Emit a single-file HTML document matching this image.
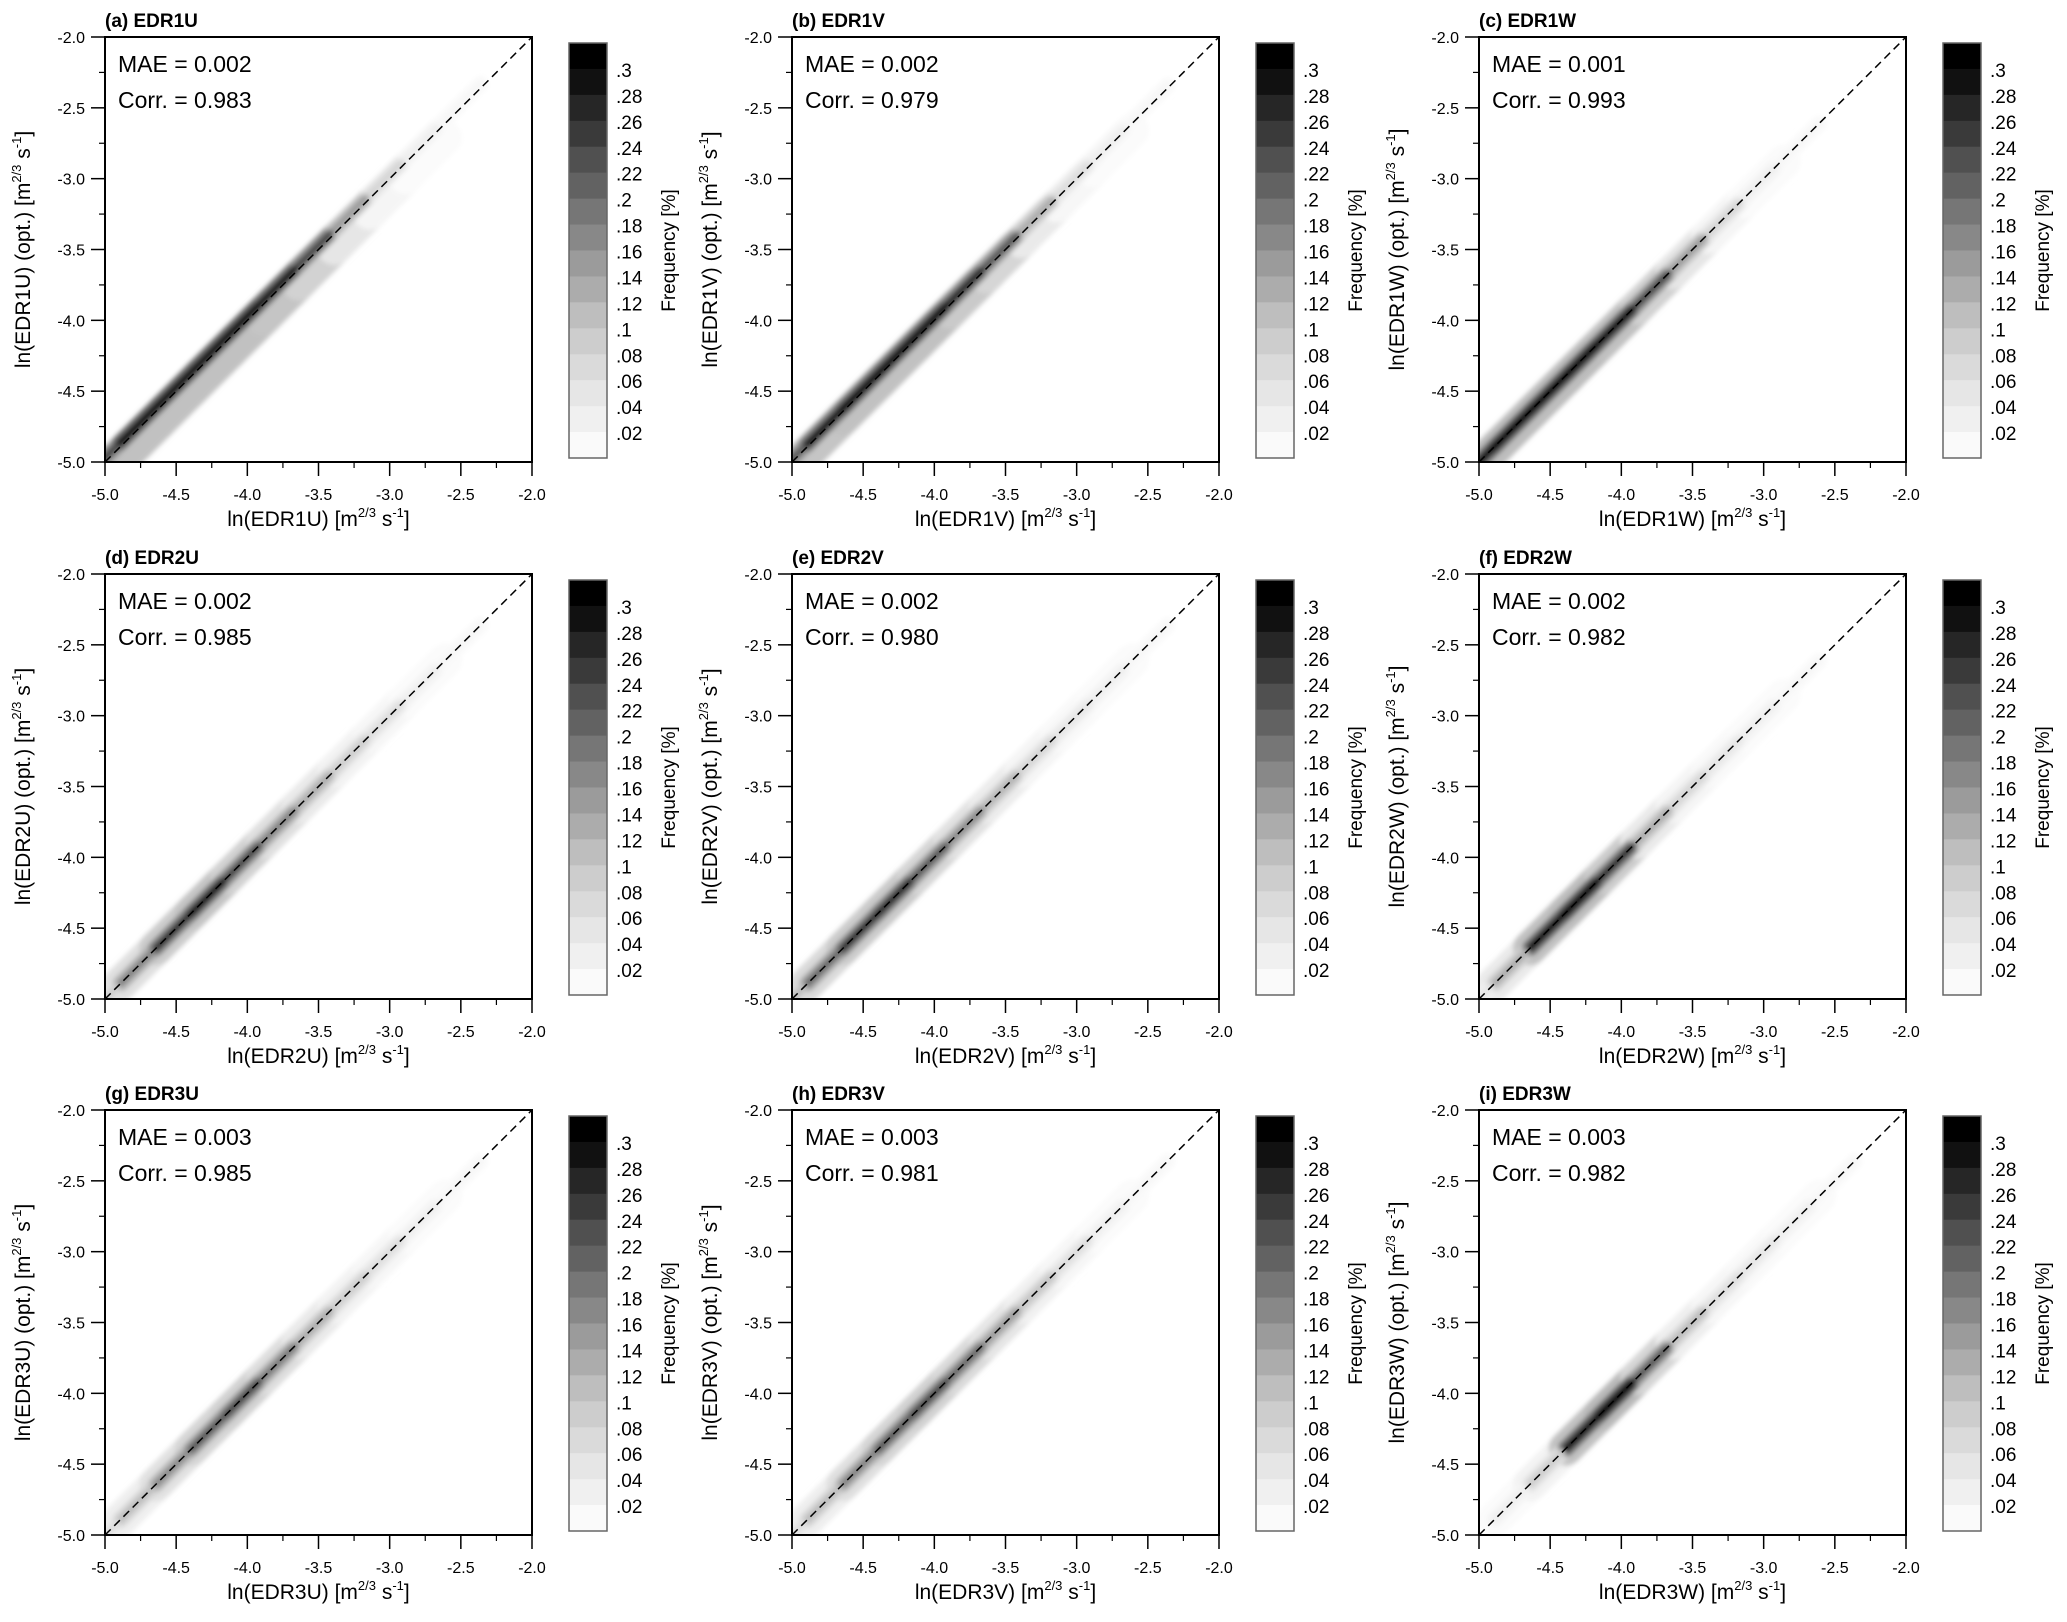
<!DOCTYPE html>
<html><head><meta charset="utf-8">
<style>
body{margin:0;background:#fff;}
svg{display:block;font-family:"Liberation Sans",Arial,sans-serif;}
</style></head>
<body>
<svg id="fig" width="2067" height="1622" viewBox="0 0 2067 1622" xmlns="http://www.w3.org/2000/svg">
<defs>
<filter id="blur" x="-20%" y="-20%" width="140%" height="140%"><feGaussianBlur stdDeviation="2.5"/></filter>
</defs>
</svg>
<script>
const NS="http://www.w3.org/2000/svg";
const svg=document.getElementById('fig');
// ---- data ----
const panelIds=['a','b','c','d','e','f','g','h','i'];
const panelVars=['EDR1U','EDR1V','EDR1W','EDR2U','EDR2V','EDR2W','EDR3U','EDR3V','EDR3W'];
const maeValues=['0.002','0.002','0.001','0.002','0.002','0.002','0.003','0.003','0.003'];
const corrValues=['0.983','0.979','0.993','0.985','0.980','0.982','0.985','0.981','0.982'];
const gridX=[-5,-4.75,-4.5,-4.25,-4,-3.75,-3.5,-3.25,-3,-2.75,-2.5];
const densA=[.22,.30,.30,.30,.30,.28,.22,.12,.05,.02,.01];
const densB=[.20,.28,.30,.30,.30,.26,.20,.10,.04,.02,.01];
const densC=[.30,.32,.32,.32,.30,.22,.12,.05,.02,.01,0];
const densD=[.06,.15,.25,.28,.22,.15,.10,.06,.04,.02,.01];
const densE=[.08,.18,.25,.26,.20,.14,.09,.05,.03,.02,.01];
const densF=[.03,.10,.30,.32,.25,.10,.05,.03,.02,.01,0];
const densG=[.04,.08,.14,.20,.22,.16,.10,.06,.04,.02,.01];
const densH=[.04,.08,.15,.20,.22,.18,.12,.07,.04,.02,.01];
const densI=[0,.02,.06,.30,.34,.20,.08,.04,.03,.02,.01];
const haloOffsets=[-0.1,-0.05,-0.02,0,0,0,0,0,0];
const coreOffsets=[0.03,0.02,0,0,0,0,0,0,0];
const allDens=[densA,densB,densC,densD,densE,densF,densG,densH,densI];
const axisTicks=[-5.0,-4.5,-4.0,-3.5,-3.0,-2.5,-2.0];
const minorTicks=[-4.75,-4.25,-3.75,-3.25,-2.75,-2.25];
const cbLabels=['.3','.28','.26','.24','.22','.2','.18','.16','.14','.12','.1','.08','.06','.04','.02'];
const cbGrays=[0,17,38,58,80,98,118,136,155,172,190,205,218,230,240,250];
// ---- layout ----
const colX=[105,792,1479], rowY=[37,574,1110], PW=427, PH=425;
function el(tag,attrs,parent){const e=document.createElementNS(NS,tag);for(const k in attrs)e.setAttribute(k,attrs[k]);(parent||svg).appendChild(e);return e;}
function gray(d){const v=Math.max(0,Math.min(255,Math.round(255*(1-d/0.31))));return `rgb(${v},${v},${v})`;}
function makeLabel(parent,x,y,pre,rot,name){
  const t=el('text',{x:x,y:y,'font-size':21,'text-anchor':'middle',fill:'#000'},parent);
  if(rot)t.setAttribute('transform',`rotate(-90 ${x} ${y})`);
  
  
  t.appendChild(document.createTextNode(pre+' [m'));
  const s1=el('tspan',{'font-size':13,dy:-9},t);s1.textContent='2/3';
  const s2=el('tspan',{dy:9},t);s2.textContent=' s';
  const s3=el('tspan',{'font-size':13,dy:-9},t);s3.textContent='-1';
  const s4=el('tspan',{dy:9},t);s4.textContent=']';
}
const defs=svg.querySelector('defs');
panelIds.forEach((pid,i)=>{
  const L=colX[i%3], T=rowY[Math.floor(i/3)];
  const cp=el('clipPath',{id:'clip-'+pid},defs);
  el('rect',{x:L,y:T,width:PW,height:PH},cp);
  const g=el('g',{});
  
  
  const sx=v=>L+(v+5)/3*PW, sy=v=>T+(-2-v)/3*PH;
  // density
  const cg=el('g',{'clip-path':`url(#clip-${pid})`},g);
  const dg=el('g',{filter:'url(#blur)'},cg);
  
  
  const dens=allDens[i];
  const layers=[[0.25,34,haloOffsets[i]],[0.6,16,coreOffsets[i]],[1,7,coreOffsets[i]]];
  layers.forEach(([f,w,off])=>{
    for(let k=0;k<gridX.length;k++){
      const d=dens[k]*f; if(d<=0.004)continue;
      const x0=Math.max(-5.05,gridX[k]-0.14), x1=Math.min(-2,gridX[k]+0.14);
      const ln=el('line',{x1:sx(x0),y1:sy(x0+off),x2:sx(x1),y2:sy(x1+off),stroke:gray(d),'stroke-width':w,'stroke-linecap':'round'},dg);
      
      
    }
  });
  // 1:1 line
  const dl=el('line',{x1:sx(-5),y1:sy(-5),x2:sx(-2),y2:sy(-2),stroke:'#000','stroke-width':1.5,'stroke-dasharray':'8,5'},g);
  
  
  const fr=el('rect',{x:L,y:T,width:PW,height:PH,fill:'none',stroke:'#000','stroke-width':2},g);
  
  
  axisTicks.forEach(v=>{
    el('line',{x1:sx(v),y1:T+PH,x2:sx(v),y2:T+PH+14,stroke:'#000','stroke-width':1.5},g);
    el('line',{x1:L,y1:sy(v),x2:L-14,y2:sy(v),stroke:'#000','stroke-width':1.5},g);
    const tx=el('text',{x:sx(v),y:T+PH+38,'font-size':16,'text-anchor':'middle'},g);tx.textContent=v.toFixed(1);
    
    
    const ty=el('text',{x:L-20,y:sy(v)+6,'font-size':16,'text-anchor':'end'},g);ty.textContent=v.toFixed(1);
    
    
  });
  minorTicks.forEach(v=>{
    el('line',{x1:sx(v),y1:T+PH,x2:sx(v),y2:T+PH+6,stroke:'#000','stroke-width':1.2},g);
    el('line',{x1:L,y1:sy(v),x2:L-6,y2:sy(v),stroke:'#000','stroke-width':1.2},g);
  });
  const tt=el('text',{x:L,y:T-10,'font-size':19,'font-weight':'bold'},g);tt.textContent=`(${pid}) ${panelVars[i]}`;
  
  
  const m=el('text',{x:L+13,y:T+35,'font-size':23},g);m.textContent='MAE = '+maeValues[i];
  
  
  const c=el('text',{x:L+13,y:T+71,'font-size':23},g);c.textContent='Corr. = '+corrValues[i];
  
  
  makeLabel(g,L+PW/2,T+PH+64,`ln(${panelVars[i]})`,false,'x-axis-title');
  makeLabel(g,L-75,T+PH/2,`ln(${panelVars[i]}) (opt.)`,true,'y-axis-title');
  // colorbar
  const cx=L+464, cy=T+6, cw=38, ch=415, bh=ch/cbGrays.length;
  const cb=el('g',{},g);
  
  
  cbGrays.forEach((gv,k)=>{el('rect',{x:cx,y:cy+k*bh,width:cw,height:bh+0.5,fill:`rgb(${gv},${gv},${gv})`},cb);});
  el('rect',{x:cx,y:cy,width:cw,height:ch,fill:'none',stroke:'#666','stroke-width':1.5},cb);
  cbLabels.forEach((lab,k)=>{const t=el('text',{x:cx+47,y:cy+(k+1)*bh+8,'font-size':19},cb);t.textContent=lab;
    
    });
  const fq=el('text',{x:cx+106,y:cy+ch/2,'font-size':19,'text-anchor':'middle',transform:`rotate(-90 ${cx+106} ${cy+ch/2})`},cb);fq.textContent='Frequency [%]';
  
  
});
</script>
</body></html>
